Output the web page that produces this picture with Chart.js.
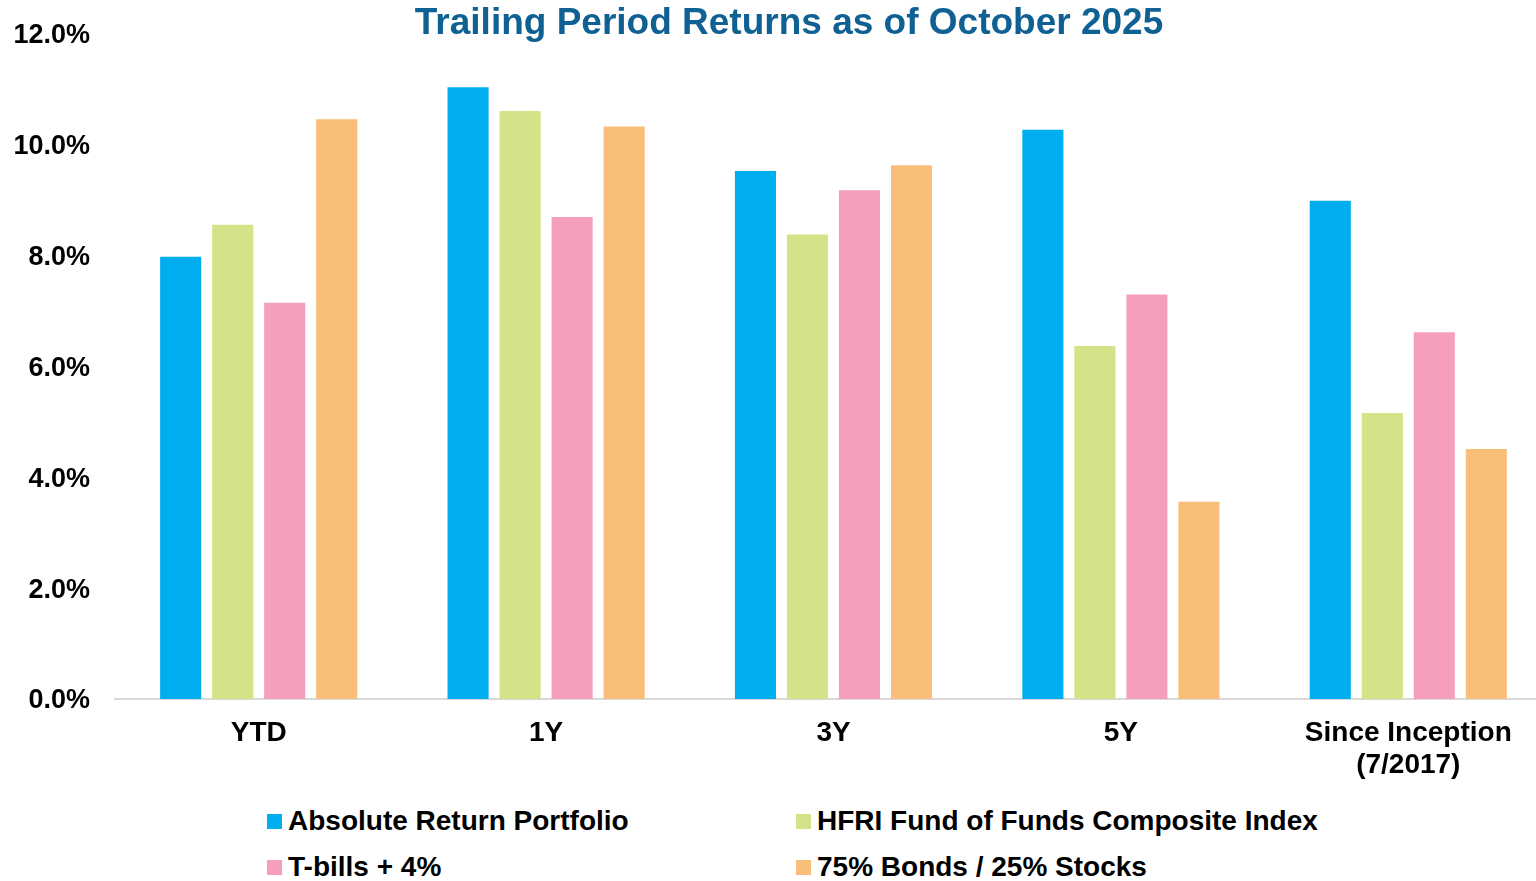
<!DOCTYPE html>
<html lang="en">
<head>
  <meta charset="UTF-8">
  <title>Trailing Period Returns as of October 2025</title>
  <style>
    html, body {
      margin: 0;
      padding: 0;
      background: #ffffff;
      overflow: hidden;
      font-family: "Liberation Sans", Arial, sans-serif;
    }
    .wrap {
      position: relative;
      width: 1536px;
      height: 881px;
      overflow: hidden;
    }
    .chart-box {
      position: absolute;
      left: 0;
      top: 0;
      width: 1552px;
      height: 790px;
    }
    #title {
      position: absolute;
      left: 789px;
      top: 22px;
      transform: translate(-50%, -50%);
      white-space: nowrap;
      font-weight: bold;
      font-size: 37px;
      color: #0f6194;
    }
    .legend-item {
      position: absolute;
      font-weight: bold;
      font-size: 28px;
      color: #000;
      white-space: nowrap;
      transform: translateY(-50%);
      display: flex;
      align-items: center;
    }
    .legend-item span.box {
      display: inline-block;
      width: 15px;
      height: 15px;
      margin-right: 6px;
    }
  </style>
</head>
<body>
  <div class="wrap">
    <div class="chart-box">
      <canvas id="returnsChart"></canvas>
    </div>
    <div id="title">Trailing Period Returns as of October 2025</div>
    <div id="legend"></div>
  </div>

  <script src="https://cdn.jsdelivr.net/npm/chart.js"></script>
  <script>
    // categories and series (values in %)
    const periods = ['YTD', '1Y', '3Y', '5Y', ['Since Inception', '(7/2017)']];
    const seriesNames = [
      'Absolute Return Portfolio',
      'HFRI Fund of Funds Composite Index',
      'T-bills + 4%',
      '75% Bonds / 25% Stocks'
    ];
    const absoluteReturn = [7.98, 11.04, 9.53, 10.27, 8.99];
    const hfriFoF = [8.56, 10.61, 8.38, 6.37, 5.16];
    const tbillsPlus4 = [7.15, 8.70, 9.18, 7.30, 6.62];
    const bondsStocks = [10.46, 10.33, 9.63, 3.56, 4.51];
    const yTicks = [0, 2, 4, 6, 8, 10, 12];

    const colors = ['#00aeef', '#d3e488', '#f59fbd', '#f9be78'];
    const allSeries = [absoluteReturn, hfriFoF, tbillsPlus4, bondsStocks];

    const fontFamily = '"Liberation Sans", Arial, sans-serif';

    const ctx = document.getElementById('returnsChart').getContext('2d');
    const chart = new Chart(ctx, {
      type: 'bar',
      data: {
        labels: periods,
        datasets: allSeries.map((vals, i) => ({
          label: seriesNames[i],
          data: vals,
          backgroundColor: colors[i],
          borderWidth: 0,
          categoryPercentage: 0.724,
          barPercentage: 0.79
        }))
      },
      options: {
        responsive: true,
        maintainAspectRatio: false,
        animation: false,
        layout: { padding: { top: 34, right: 0, left: 0, bottom: 0 } },
        plugins: {
          legend: { display: false },
          title: { display: false },
          tooltip: { enabled: false }
        },
        scales: {
          x: {
            grid: { display: false, drawTicks: false },
            border: { display: true, color: '#d9d9d9', width: 2 },
            ticks: {
              color: '#000',
              font: { family: fontFamily, weight: 'bold', size: 28, lineHeight: 1.12 },
              padding: 19,
              maxRotation: 0,
              autoSkip: false
            },
            afterFit: (scale) => { scale.height = 91; }
          },
          y: {
            min: 0,
            max: 12,
            grid: { display: false, drawTicks: false },
            border: { display: false },
            afterBuildTicks: (scale) => { scale.ticks = yTicks.map(v => ({ value: v })); },
            ticks: {
              color: '#000',
              font: { family: fontFamily, weight: 'bold', size: 27 },
              padding: 25,
              labelOffset: 2,
              callback: (v) => v.toFixed(1) + '%'
            },
            afterFit: (scale) => {
              scale.width = 115;
              // tick padding would otherwise push the plot top down
              scale.paddingTop = 0;
              scale.paddingBottom = 0;
            }
          }
        }
      }
    });

    // two-column legend under the chart
    const legendPos = [
      { left: 267, top: 821 },
      { left: 796, top: 821 },
      { left: 267, top: 867 },
      { left: 796, top: 867 }
    ];
    const legendEl = document.getElementById('legend');
    chart.data.datasets.forEach((ds, i) => {
      const item = document.createElement('div');
      item.className = 'legend-item';
      item.style.left = legendPos[i].left + 'px';
      item.style.top = legendPos[i].top + 'px';
      const box = document.createElement('span');
      box.className = 'box';
      box.style.background = ds.backgroundColor;
      item.appendChild(box);
      item.appendChild(document.createTextNode(ds.label));
      legendEl.appendChild(item);
    });
  </script>
</body>
</html>
